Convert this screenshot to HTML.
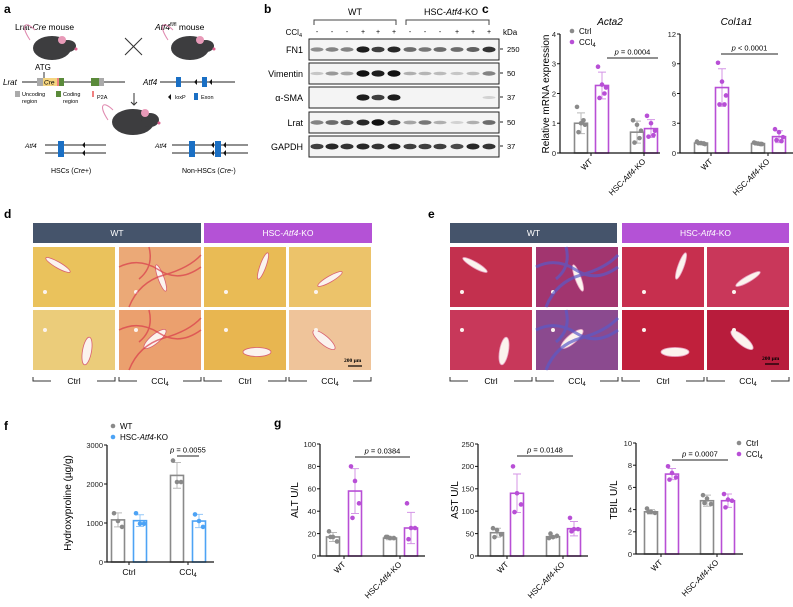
<!DOCTYPE html>
<html><head><meta charset="utf-8"><style>
body{margin:0;background:#fff;}
svg{display:block;font-family:"Liberation Sans",Arial,sans-serif;}
</style></head><body>
<svg id="fig" width="793" height="607" viewBox="0 0 793 607">
<g font-weight="bold" font-size="12">
<text x="4" y="13">a</text><text x="264" y="13">b</text><text x="482" y="13">c</text>
<text x="4" y="218">d</text><text x="428" y="218">e</text><text x="4" y="430">f</text><text x="274" y="427">g</text>
</g>
<!-- panel a -->
<g id="panelA" font-size="8">
<text x="15" y="30" font-size="8.5">Lrat-<tspan font-style="italic">Cre</tspan> mouse</text>
<text x="155" y="30" font-size="8.5"><tspan font-style="italic">Atf4</tspan><tspan font-size="5" dy="-4">fl/fl</tspan><tspan dy="4"> mouse</tspan></text>
<g><path d="M30 40 C20 25 25 20 35 30" stroke="#e08bb0" fill="none"/><ellipse cx="52" cy="48" rx="19" ry="12" fill="#3d3d3f"/><ellipse cx="68" cy="46" rx="8" ry="6" fill="#3d3d3f"/><circle cx="62" cy="40" r="4" fill="#e89ab8"/><circle cx="76" cy="49" r="1.5" fill="#e06090"/></g>
<g><path d="M168 40 C158 25 163 20 173 30" stroke="#e08bb0" fill="none"/><ellipse cx="190" cy="48" rx="19" ry="12" fill="#3d3d3f"/><ellipse cx="206" cy="46" rx="8" ry="6" fill="#3d3d3f"/><circle cx="200" cy="40" r="4" fill="#e89ab8"/><circle cx="214" cy="49" r="1.5" fill="#e06090"/></g>
<g stroke="#333"><line x1="125" y1="38" x2="142" y2="55"/><line x1="142" y1="38" x2="125" y2="55"/></g>
<text x="35" y="70">ATG</text>
<line x1="44" y1="72" x2="44" y2="82" stroke="#333"/>
<text x="3" y="85" font-style="italic">Lrat</text>
<line x1="22" y1="82" x2="125" y2="82" stroke="#222"/>
<rect x="37" y="78" width="6" height="8" fill="#aaa"/><rect x="43" y="78" width="15" height="8" fill="#f5d580"/><text x="44" y="84.5" font-size="6.5" font-style="italic">Cre</text><rect x="57" y="78" width="2" height="8" fill="#f08080"/><rect x="59" y="78" width="5" height="8" fill="#5a8a3a"/><rect x="91" y="78" width="8" height="8" fill="#5a8a3a"/><rect x="99" y="78" width="5" height="8" fill="#aaa"/>
<rect x="15" y="91" width="5" height="6" fill="#aaa"/><text x="22" y="96" font-size="5.5">Uncoding</text><text x="22" y="103" font-size="5.5">region</text>
<rect x="56" y="91" width="5" height="6" fill="#5a8a3a"/><text x="63" y="96" font-size="5.5">Coding</text><text x="63" y="103" font-size="5.5">region</text>
<rect x="92" y="91" width="2" height="6" fill="#f08080"/><text x="97" y="99" font-size="5.5">P2A</text>
<text x="143" y="85" font-style="italic">Atf4</text>
<line x1="160" y1="82" x2="235" y2="82" stroke="#222"/>
<rect x="176" y="77" width="5" height="10" fill="#1a6fc4"/><path d="M197 79 v6 l-3 -3z" fill="#111"/><rect x="202" y="77" width="5" height="10" fill="#1a6fc4"/><path d="M212 79 v6 l-3 -3z" fill="#111"/>
<path d="M171 94 v6 l-3 -3z" fill="#111"/><text x="175" y="99" font-size="5.5">loxP</text><rect x="194" y="93" width="4" height="7" fill="#1a6fc4"/><text x="201" y="99" font-size="5.5">Exon</text>
<line x1="134" y1="93" x2="134" y2="104" stroke="#333"/><path d="M131 102 l3 3 l3 -3" fill="none" stroke="#333"/>
<g><path d="M108 120 C98 105 103 100 113 110" stroke="#e08bb0" fill="none"/><ellipse cx="133" cy="122" rx="21" ry="13" fill="#3d3d3f"/><ellipse cx="150" cy="120" rx="9" ry="7" fill="#3d3d3f"/><circle cx="145" cy="113" r="4" fill="#e89ab8"/><circle cx="159" cy="123" r="1.5" fill="#e06090"/></g>
<g stroke="#222">
<line x1="45" y1="145" x2="106" y2="145"/><line x1="45" y1="153" x2="106" y2="153"/>
<line x1="172" y1="145" x2="248" y2="145"/><line x1="172" y1="153" x2="248" y2="153"/></g>
<rect x="58" y="141" width="6" height="16" fill="#1a6fc4"/><path d="M85 142 v6 l-3-3z M85 150 v6 l-3-3z" fill="#111"/>
<rect x="189" y="141" width="6" height="16" fill="#1a6fc4"/><path d="M214 142 v6 l-3-3z M214 150 v6 l-3-3z M226 142 v6 l-3-3z M226 150 v6 l-3-3z" fill="#111"/><rect x="215" y="141" width="6" height="16" fill="#1a6fc4"/>
<text x="25" y="148" font-size="6.5" font-style="italic">Atf4</text><text x="155" y="148" font-size="6.5" font-style="italic">Atf4</text>
<text x="51" y="173" font-size="7">HSCs (<tspan font-style="italic">Cre</tspan>+)</text>
<text x="182" y="173" font-size="7">Non-HSCs (<tspan font-style="italic">Cre</tspan>-)</text>
</g>
<g id="panelB" font-size="8"></g>
<g id="panelC"></g>
<g id="panelDE"></g>
<g id="panelF"></g>
<g id="panelG"></g>
</svg>
<script>
const NS='http://www.w3.org/2000/svg';
function mk(tag,attrs,parent,txt){const e=document.createElementNS(NS,tag);for(const k in attrs)e.setAttribute(k,attrs[k]);if(txt!==undefined)e.textContent=txt;parent.appendChild(e);return e;}

// ---------- chart data ----------
const groupLabels=['WT','HSC-Atf4-KO'];
const acta2Means=[1.0,2.27,0.7,0.82];
const acta2Sds=[0.35,0.45,0.37,0.3];
const acta2Points=[[1.55,1.0,0.95,0.7,1.1],[2.9,2.3,2.2,1.85,2.0],[1.1,0.95,0.75,0.35,0.5],[1.25,1.0,0.75,0.55,0.6]];
const acta2Ticks=[0,1,2,3,4];
const col1a1Means=[1.0,6.6,0.95,1.65];
const col1a1Sds=[0.15,1.9,0.15,0.6];
const col1a1Points=[[1.15,1.0,0.9,1.0,0.95],[9.1,7.2,5.8,4.9,4.9],[1.05,0.95,0.9,1.0,0.9],[2.4,2.1,1.6,1.3,1.2]];
const col1a1Ticks=[0,3,6,9,12];
const hypMeans=[1080,1060,2220,1050];
const hypSds=[180,150,330,170];
const hypPoints=[[1250,1050,900],[1250,980,980],[2600,2050,2050],[1220,1050,900]];
const hypTicks=[0,1000,2000,3000];
const altMeans=[17,58,16,25];
const altSds=[4,20,1.5,14];
const altPoints=[[22,17,13,17],[80,67,47,34],[17,16,16,17],[47,25,25,15]];
const altTicks=[0,20,40,60,80,100];
const astMeans=[52,140,43,61];
const astSds=[10,43,3,16];
const astPoints=[[62,58,48,42],[200,140,115,98],[40,42,45,50],[85,60,60,55]];
const astTicks=[0,50,100,150,200,250];
const tbilMeans=[3.8,7.2,4.8,4.8];
const tbilSds=[0.2,0.5,0.5,0.6];
const tbilPoints=[[4.1,3.8,3.7,3.8],[7.9,7.3,6.9,6.7],[5.3,5.0,4.5,4.6],[5.4,4.9,4.8,4.2]];
const tbilTicks=[0,2,4,6,8,10];

const GRAY='#8a8a8a',PURPLE='#b84fd6',BLUE='#4da3f5';
const jit=[-4,0,4,-2.5,2.5];

function chart(p){
  const g=mk('g',{},p.parent);
  
  
  const max=p.ticks[p.ticks.length-1];
  const Y=v=>p.y0-v/max*(p.y0-p.yTop);
  p.means.forEach((m,i)=>{
    const c=p.colors[i], x=p.xs[i];
    const r=mk('rect',{x:x-6.5,y:Y(m),width:13,height:p.y0-Y(m),fill:'#fff',stroke:c,'stroke-width':1.6},g);
    
    
    const lo=Y(m-p.sds[i]),hi=Y(m+p.sds[i]);
    const e=mk('path',{d:`M${x} ${lo}V${hi}M${x-4} ${hi}H${x+4}M${x-4} ${lo}H${x+4}`,stroke:c,'stroke-opacity':0.6,'stroke-width':1,fill:'none'},g);
    
    
    p.points[i].forEach((v,j)=>{
      const d=mk('circle',{cx:x+jit[j],cy:Y(v),r:2.3,fill:c},g);
      
      
    });
  });
  const ax=mk('path',{d:`M${p.x0} ${p.yTop}V${p.y0}H${p.x1}`,stroke:'#111','stroke-width':1.2,fill:'none'},g);
  
  
  p.ticks.forEach(t=>{
    mk('line',{x1:p.x0-3,x2:p.x0,y1:Y(t),y2:Y(t),stroke:'#111'},g);
    const tl=mk('text',{x:p.x0-4,y:Y(t)+2.8,'font-size':7.5,'text-anchor':'end',fill:'#222'},g,t);
    
    
  });
  p.cats.forEach((c,k)=>{
    const cx=p.catX[k];
    mk('line',{x1:cx,x2:cx,y1:p.y0,y2:p.y0+3,stroke:'#111'},g);
    let t;
    if(p.rotate){
      t=mk('text',{x:cx+2,y:p.y0+9,'font-size':8,'text-anchor':'end',transform:`rotate(-45 ${cx+2} ${p.y0+9})`},g);
    } else {
      t=mk('text',{x:cx,y:p.y0+13,'font-size':8.5,'text-anchor':'middle'},g);
    }
    if(c==='HSC-Atf4-KO'){t.innerHTML='HSC-<tspan font-style="italic">Atf4</tspan>-KO';}
    else if(c==='CCl4'){t.innerHTML='CCl<tspan font-size="6" dy="2">4</tspan>';}
    else t.textContent=c;
    
    
  });
  const yl=mk('text',{x:p.ylx,y:p.ylY,'font-size':p.ylSize||10,'text-anchor':'middle',transform:`rotate(-90 ${p.ylx} ${p.ylY})`},g,p.ylabel);
  
  
  const pl=mk('line',{x1:p.pl[0],x2:p.pl[1],y1:p.pl[2],y2:p.pl[2],stroke:'#222','stroke-width':1},g);
  
  
  const pt=mk('text',{x:(p.pl[0]+p.pl[1])/2,y:p.pl[2]-3.5,'font-size':7.5,'text-anchor':'middle'},g);
  pt.innerHTML='<tspan font-style="italic">p</tspan> '+p.ptext;
  
  
  if(p.title){
    const tt=mk('text',{x:(p.x0+p.x1)/2,y:25,'font-size':10,'font-style':'italic','text-anchor':'middle'},g,p.title);
    
    
  }
}
function legend(parent,x,y,items,cols){
  items.forEach((it,i)=>{
    mk('circle',{cx:x,cy:y+i*11-3,r:2.3,fill:cols[i]},parent);
    const t=mk('text',{x:x+7,y:y+i*11,'font-size':8},parent);
    t.innerHTML=it;
    
    
  });
}
const PC=[GRAY,PURPLE,GRAY,PURPLE];
const C=document.getElementById('panelC');
chart({parent:C,name:'acta2-chart',short:'acta2',x0:560,x1:660,y0:153,yTop:34,ticks:acta2Ticks,means:acta2Means,sds:acta2Sds,points:acta2Points,xs:[581,602,637,651],colors:PC,cats:groupLabels,catX:[591,644],rotate:true,ylabel:'Relative mRNA expression',ylx:549,ylY:94,ylSize:10,pl:[607,658,58],ptext:'= 0.0004',title:'Acta2'});
chart({parent:C,name:'col1a1-chart',short:'col1a1',x0:680,x1:793,y0:153,yTop:34,ticks:col1a1Ticks,means:col1a1Means,sds:col1a1Sds,points:col1a1Points,xs:[701,722,758,779],colors:PC,cats:groupLabels,catX:[711,768],rotate:true,ylabel:'',ylx:0,ylY:0,pl:[721,778,54],ptext:'&lt; 0.0001',title:'Col1a1'});
legend(C,572,34,['Ctrl','CCl<tspan font-size="6" dy="2">4</tspan>'],[GRAY,PURPLE]);

const F=document.getElementById('panelF');
chart({parent:F,name:'hydroxyproline-chart',short:'hyp',x0:107,x1:214,y0:562,yTop:445,ticks:hypTicks,means:hypMeans,sds:hypSds,points:hypPoints,xs:[118,140,177,199],colors:[GRAY,BLUE,GRAY,BLUE],cats:['Ctrl','CCl4'],catX:[129,188],rotate:false,ylabel:'Hydroxyproline (µg/g)',ylx:71,ylY:503,ylSize:10,pl:[177,199,456],ptext:'= 0.0055'});
legend(F,113,429,['WT','HSC-<tspan font-style="italic">Atf4</tspan>-KO'],[GRAY,BLUE]);

const G=document.getElementById('panelG');
chart({parent:G,name:'alt-chart',short:'alt',x0:320,x1:425,y0:556,yTop:444,ticks:altTicks,means:altMeans,sds:altSds,points:altPoints,xs:[333,355,390,411],colors:PC,cats:groupLabels,catX:[344,400],rotate:true,ylabel:'ALT  U/L',ylx:298,ylY:500,ylSize:10,pl:[355,410,457],ptext:'= 0.0384'});
chart({parent:G,name:'ast-chart',short:'ast',x0:478,x1:588,y0:556,yTop:444,ticks:astTicks,means:astMeans,sds:astSds,points:astPoints,xs:[497,517,553,574],colors:PC,cats:groupLabels,catX:[507,563],rotate:true,ylabel:'AST  U/L',ylx:458,ylY:500,ylSize:10,pl:[517,573,456],ptext:'= 0.0148'});
chart({parent:G,name:'tbil-chart',short:'tbil',x0:636,x1:743,y0:554,yTop:443,ticks:tbilTicks,means:tbilMeans,sds:tbilSds,points:tbilPoints,xs:[651,672,707,728],colors:PC,cats:groupLabels,catX:[661,717],rotate:true,ylabel:'TBIL  U/L',ylx:617,ylY:500,ylSize:10,pl:[672,728,460],ptext:'= 0.0007'});
legend(G,739,446,['Ctrl','CCl<tspan font-size="6" dy="2">4</tspan>'],[GRAY,PURPLE]);

// ---------- western blot ----------
const B=document.getElementById('panelB');
const laneX=[317,332,347,363,378,394,410,425,440,457,473,489];
const ccl4=['-','-','-','+','+','+','-','-','-','+','+','+'];
const blotRows=['FN1','Vimentin','α-SMA','Lrat','GAPDH'];
const blotY=[39,63,87,112,136];
const blotKda=['250','50','37','50','37'];
const blotInt=[[.45,.5,.5,.95,.8,.9,.6,.55,.6,.6,.65,.85],[.2,.4,.35,1,.95,1,.3,.28,.25,.2,.25,.5],[0,0,0,.95,.8,.95,0,0,0,0,0,.15],[.5,.6,.7,.9,1,.75,.35,.55,.3,.15,.3,.6],[.8,.9,.85,.9,.85,.9,.8,.8,.8,.75,.9,.85]];
mk('text',{x:355,y:15,'font-size':9,'text-anchor':'middle'},B,'WT');
const hk=mk('text',{x:451,y:15,'font-size':9,'text-anchor':'middle'},B);hk.innerHTML='HSC-<tspan font-style="italic">Atf4</tspan>-KO';
mk('path',{d:'M314 25V20H396V25M406 25V20H489V25',stroke:'#444',fill:'none'},B);
const cl=mk('text',{x:302,y:35,'font-size':8,'text-anchor':'end'},B);cl.innerHTML='CCl<tspan font-size="5.5" dy="2">4</tspan>';
ccl4.forEach((s,i)=>mk('text',{x:laneX[i],y:34,'font-size':7,'text-anchor':'middle'},B,s));
mk('text',{x:503,y:35,'font-size':8},B,'kDa');
blotRows.forEach((r,k)=>{
  const y=blotY[k];
  const box=mk('rect',{x:309,y:y,width:190,height:21,fill:'#f4f4f4',stroke:'#222','stroke-width':1},B);
  
  
  mk('text',{x:303,y:y+14,'font-size':9,'text-anchor':'end'},B,r);
  mk('line',{x1:500,x2:503,y1:y+10,y2:y+10,stroke:'#222'},B);
  mk('text',{x:507,y:y+13,'font-size':7.5},B,blotKda[k]);
  blotInt[k].forEach((v,i)=>{
    if(v<=0)return;
    const b=mk('ellipse',{cx:laneX[i],cy:y+10.5,rx:6.5,ry:1.2+v*2,fill:'#111','fill-opacity':v},B);
    
    
  });
});

// ---------- histology ----------
const DE=document.getElementById('panelDE');
function header(x,w,col,label,html){const r=mk('rect',{x:x,y:223,width:w,height:20,fill:col},DE);const t=mk('text',{x:x+w/2,y:236,'font-size':8.5,fill:'#fff','text-anchor':'middle'},DE);t.innerHTML=html;}
header(33,168,'#45546b','header-wt-d','WT');header(204,168,'#b452d6','header-ko-d','HSC-<tspan font-style="italic">Atf4</tspan>-KO');
header(450,167,'#45546b','header-wt-e','WT');header(622,167,'#b452d6','header-ko-e','HSC-<tspan font-style="italic">Atf4</tspan>-KO');
const dCols=[33,119,204,289],eCols=[450,536,622,707],rows=[247,310];
const dFill=[['#eac25c','#eba977','#e9bb55','#ecc36a'],['#ebcc7a','#eba06e','#e8b650','#efc49a']];
const eFill=[['#c3304e','#a2356f','#c72f4e','#c9375a'],['#c8385a','#8b4a8f','#c0203c','#b81c3c']];
[dCols,eCols].forEach((cols,pi)=>{
  rows.forEach((y,ri)=>{
    cols.forEach((x,ci)=>{
      const f=(pi?eFill:dFill)[ri][ci];
      const r=mk('rect',{x:x,y:y,width:82,height:60,fill:f},DE);
      
      
      const vx=x+25+((ci*17+ri*29)%35), vy=y+18+((ci*13+ri*23)%25);
      const v=mk('ellipse',{cx:vx,cy:vy,rx:3+ri*1.5,ry:14,fill:'#fbf3ee',transform:`rotate(${(ci*40+ri*70)%180-60} ${vx} ${vy})`,stroke:pi?'#e9a0c0':'#d86070','stroke-width':0.8},DE);
      
      
      mk('circle',{cx:x+12+ci*5,cy:y+45-ri*25,r:2,fill:'#fbf3ee'},DE);
      if(ci===1){
        mk('path',{d:`M${x} ${y+20} q20 -10 40 3 t42 -3 M${x+10} ${y+60} q10 -25 35 -32 t37 -20 M${x+30} ${y} q5 20 -10 32`,stroke:pi?'#5a5ac8':'#d83a4a','stroke-width':pi?3:1.5,fill:'none','stroke-opacity':0.7},DE);
      }
    });
  });
});
mk('text',{x:344,y:362,'font-size':5.5,'font-weight':'bold','font-family':'Liberation Serif'},DE,'200 μm');
mk('line',{x1:348,x2:362,y1:366,y2:366,stroke:'#000','stroke-width':1.2},DE);
mk('text',{x:762,y:360,'font-size':5.5,'font-weight':'bold','font-family':'Liberation Serif'},DE,'200 μm');
mk('line',{x1:765,x2:779,y1:364,y2:364,stroke:'#000','stroke-width':1.2},DE);
const brLabels=['Ctrl','CCl4','Ctrl','CCl4'];
[dCols,eCols].forEach(cols=>{
  cols.forEach((x,i)=>{
    mk('path',{d:`M${x} 377V381H${x+18}M${x+64} 381H${x+82}V377`,stroke:'#333',fill:'none'},DE);
    const t=mk('text',{x:x+41,y:384,'font-size':8.5,'text-anchor':'middle'},DE);
    t.innerHTML=brLabels[i]==='CCl4'?'CCl<tspan font-size="6" dy="2">4</tspan>':'Ctrl';
    
    
  });
});
</script>
</body></html>
